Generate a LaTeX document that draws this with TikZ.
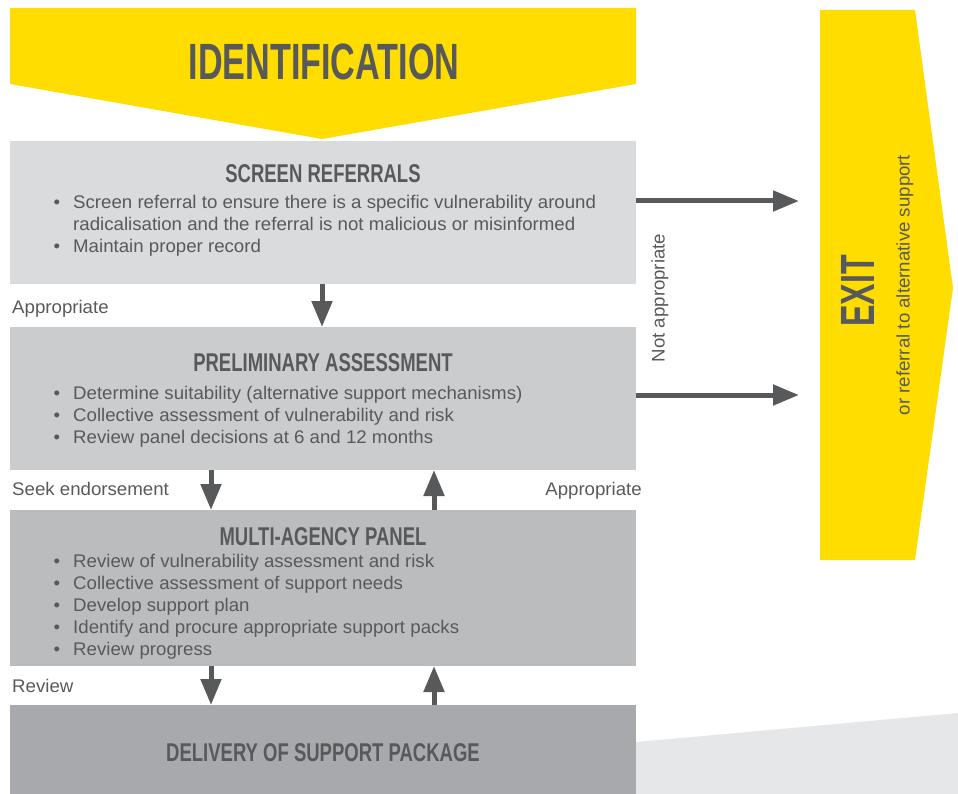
\documentclass[tikz,border=0pt]{standalone}
\usepackage{fontspec}
\setmainfont{Liberation Sans}
\newfontfamily\bodyf[FakeStretch=1.02]{Liberation Sans}
\newfontfamily\headf[FakeStretch=0.72]{Liberation Sans}
\newfontfamily\bigf[FakeStretch=0.67]{Liberation Sans}
\usetikzlibrary{arrows.meta}
\definecolor{ylw}{HTML}{FFDD00}
\definecolor{txtgrey}{HTML}{58595B}
\definecolor{boxA}{HTML}{DADBDC}
\definecolor{boxB}{HTML}{CBCCCE}
\definecolor{boxC}{HTML}{BBBCBE}
\definecolor{boxD}{HTML}{A7A9AC}
\definecolor{boxE}{HTML}{E6E7E8}
\newcommand\bul{\llap{\textbullet\hspace{13pt}}}
\begin{document}
\begin{tikzpicture}[x=1pt,y=-1pt,
  stagebox/.style={fill=#1, draw=none, minimum width=626pt, inner sep=0pt, outer sep=0pt, anchor=north west},
  body/.style={font=\bodyf\fontsize{18.3}{22}\selectfont, text=txtgrey, inner sep=0pt, anchor=base west},
  headtxt/.style={font=\headf\bfseries\fontsize{25.7}{30}\selectfont, text=txtgrey, inner sep=0pt, anchor=base},
  arr/.style={draw=txtgrey, line width=5pt, -{Triangle[length=26pt,width=20pt]}}]
\useasboundingbox (0,0) rectangle (958,794);
% banner
\fill[ylw] (10,8) -- (636,8) -- (636,84) -- (322,139) -- (10,84) -- cycle;
\node[font=\bigf\bfseries\fontsize{51}{60}\selectfont, text=txtgrey, inner sep=0pt, anchor=base] (ident) at (324,80) {IDENTIFICATION};
% exit
\fill[ylw] (820,10) -- (915,10) -- (953,288) -- (915,560) -- (820,560) -- cycle;
\coordinate (exitin) at (799,288);
\node[font=\bigf\bfseries\fontsize{48}{56}\selectfont, text=txtgrey, inner sep=0pt, rotate=90] (exit) at (858,291) {EXIT};
\node[font=\bodyf\fontsize{18.3}{22}\selectfont, text=txtgrey, inner sep=0pt, rotate=90] (exitsub) at (905,285) {or referral to alternative support};
% bottom right wedge
\fill[boxE] (636,742) -- (958,713) -- (958,794) -- (636,794) -- cycle;
% boxes
\node[stagebox=boxA, minimum height=143pt] (screen) at (10,141) {};
\node[stagebox=boxB, minimum height=143pt] (prelim) at (10,327) {};
\node[stagebox=boxC, minimum height=156pt] (multi) at (10,510) {};
\node[stagebox=boxD, minimum height=89pt] (deliv) at (10,705) {};
% headings
\node[headtxt] (h1) at (323,183) {SCREEN REFERRALS};
\node[headtxt] (h2) at (323,371) {PRELIMINARY ASSESSMENT};
\node[headtxt] (h3) at (323,545) {MULTI-AGENCY PANEL};
\node[headtxt] (h4) at (323,761) {DELIVERY OF SUPPORT PACKAGE};
% bullets
\node[body] (s1) at (73,209) {\bul Screen referral to ensure there is a specific vulnerability around};
\node[body] (s2) at (73,231) {radicalisation and the referral is not malicious or misinformed};
\node[body] (s3) at (73,253) {\bul Maintain proper record};
\node[body] (p1) at (73,399) {\bul Determine suitability (alternative support mechanisms)};
\node[body] (p2) at (73,421) {\bul Collective assessment of vulnerability and risk};
\node[body] (p3) at (73,443) {\bul Review panel decisions at 6 and 12 months};
\node[body] (m1) at (73,567) {\bul Review of vulnerability assessment and risk};
\node[body] (m2) at (73,589) {\bul Collective assessment of support needs};
\node[body] (m3) at (73,611) {\bul Develop support plan};
\node[body] (m4) at (73,633) {\bul Identify and procure appropriate support packs};
\node[body] (m5) at (73,655) {\bul Review progress};
% labels
\node[body] (l1) at (12,313) {Appropriate};
\node[body] (l2) at (12,495) {Seek endorsement};
\node[body, anchor=base east] (l3) at (642,495) {Appropriate};
\node[body] (l4) at (12,692) {Review};
\node[font=\bodyf\fontsize{18.3}{22}\selectfont, text=txtgrey, inner sep=0pt, rotate=90] (l5) at (660,298) {Not appropriate};
% arrows
\coordinate (ha) at ([yshift=11.5pt]screen.east);
\coordinate (hb) at ([yshift=3.5pt]prelim.east);
\draw[arr] (ha) -- (ha -| exitin);
\draw[arr] (hb) -- (hb -| exitin);
\draw[arr] ([xshift=-1pt]screen.south) -- ([xshift=-1pt]prelim.north);
\draw[arr] ([xshift=-112pt]prelim.south) -- ([xshift=-112pt]multi.north);
\draw[arr] ([xshift=111pt]multi.north) -- ([xshift=111pt]prelim.south);
\draw[arr] ([xshift=-112pt]multi.south) -- ([xshift=-112pt]deliv.north);
\draw[arr] ([xshift=111pt]deliv.north) -- ([xshift=111pt]multi.south);
\end{tikzpicture}
\end{document}
